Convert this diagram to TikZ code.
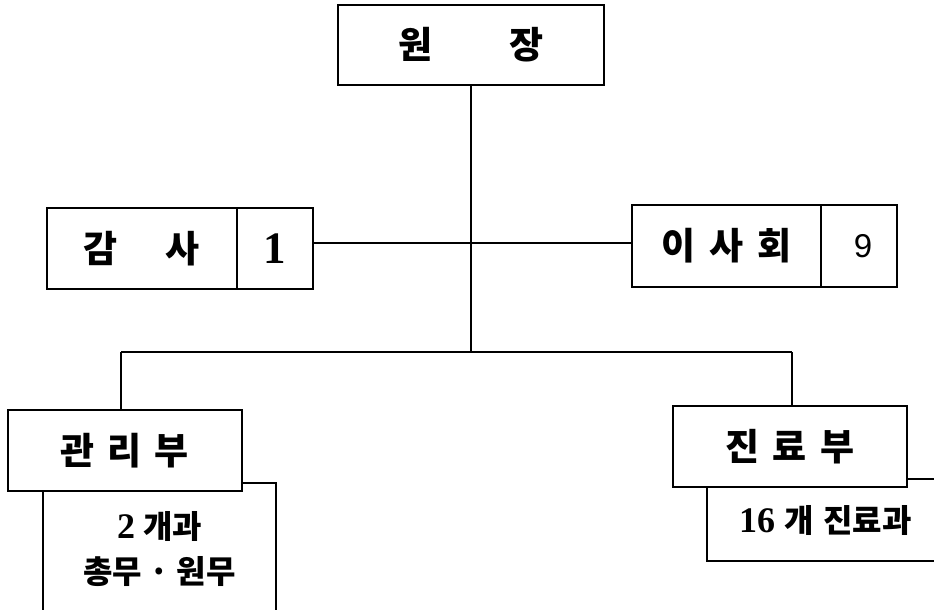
\documentclass[tikz,border=0pt]{standalone}
\usepackage{fontspec}
\setmainfont{Liberation Serif}
\newfontfamily\kr{Noto Sans CJK KR}
\newfontfamily\sansnum{Liberation Sans}
\begin{document}
\begin{tikzpicture}[x=1pt,y=-1pt,
  box/.style={draw, line width=1.3pt, fill=white, inner sep=0pt, anchor=center},
  conn/.style={line width=1.2pt},
  lab/.style={font=\kr\bfseries\fontsize{37}{40}\selectfont},
  sublab/.style={font=\kr\bfseries\fontsize{32}{45}\selectfont},
  num/.style={font=\bfseries\fontsize{45}{50}\selectfont}]
\useasboundingbox (0,0) rectangle (934,610);
\clip (0,0) rectangle (934,610);
% top
\node[box,lab,minimum width=266pt,minimum height=80pt] (wj) at (471,45) {원\hspace{77pt}장};
% middle
\node[box,lab,minimum width=190pt,minimum height=81pt] (gs) at (142,248.5) {감\hspace{48pt}사\hspace{23pt}};
\node[box,num,minimum width=76pt,minimum height=81pt] (gsn) at (275,248.5) {1};
\node[box,lab,minimum width=189pt,minimum height=82pt] (ish) at (726.5,246) {이\hspace{14pt}사\hspace{14pt}회\hspace{15pt}};
\node[box,minimum width=76pt,minimum height=82pt,font=\sansnum\fontsize{33}{36}\selectfont] (ishn) at (859,246) {\hspace{8pt}9};
% sub boxes
\node[box,sublab,minimum width=233pt,minimum height=132pt,align=center] (gsub) at (159.5,549)
  {{\rmfamily\bfseries\fontsize{36}{45}\selectfont 2}\hspace{8pt}개과\\총무 · 원무};
\node[box,sublab,minimum width=237pt,minimum height=82pt] (jsub) at (825.5,520)
  {{\rmfamily\bfseries\fontsize{36}{45}\selectfont 16}\hspace{9pt}개\hspace{10pt}진료과\hspace{6pt}};
% departments
\node[box,lab,minimum width=234pt,minimum height=81pt] (gr) at (125,450.5) {관\hspace{13pt}리\hspace{13pt}부};
\node[box,lab,minimum width=234pt,minimum height=81pt] (jr) at (790,446.5) {진\hspace{13pt}료\hspace{13pt}부};
% connectors
\coordinate (j1) at (471,352);
\coordinate (hl) at (400,243);
\coordinate (gl) at (121,352);
\coordinate (jl) at (792,352);
\draw[conn] (wj.south) -- (j1);
\draw[conn] (gsn.east |- hl) -- (ish.west |- hl);
\draw[conn] (gl) -- (jl);
\draw[conn] (gl) -- (gl |- gr.north);
\draw[conn] (jl) -- (jl |- jr.north);
\end{tikzpicture}
\end{document}
